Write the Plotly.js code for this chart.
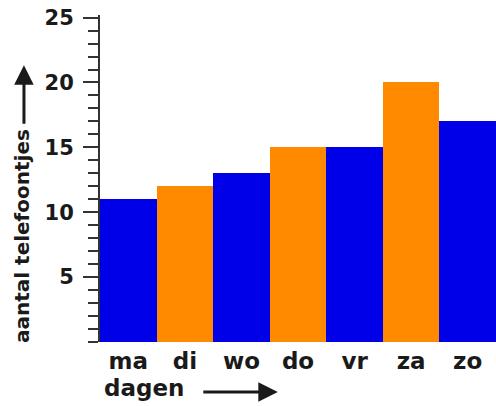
<!DOCTYPE html>
<html>
<head>
<meta charset="utf-8">
<script src="https://cdn.plot.ly/plotly-3.0.1.min.js"></script>
<style>html,body{margin:0;padding:0;background:#fff;}#chart{width:496px;height:406px;}</style>
</head>
<body>
<div id="chart"></div>
<script>
const days = ['ma', 'di', 'wo', 'do', 'vr', 'za', 'zo'];
const calls = [11, 12, 13, 15, 15, 20, 17];
const yTickVals = [5, 10, 15, 20, 25];
const yTitle = 'aantal telefoontjes';
const xTitle = 'dagen';

const BLUE = '#0000e8', ORANGE = '#ff8a00';
const barColors = days.map((d, i) => (i % 2 === 0 ? BLUE : ORANGE));
const FONT = 'DejaVu Sans, Verdana, sans-serif';
const INK = '#1a1a1a';

const trace = {
  type: 'bar', x: days, y: calls,
  marker: {color: barColors, line: {width: 0}},
  hoverinfo: 'skip'
};

const layout = {
  width: 496, height: 406,
  margin: {l: 100, r: 0, t: 15, b: 64},
  paper_bgcolor: '#fff', plot_bgcolor: '#fff',
  bargap: 0,
  showlegend: false,
  font: {family: FONT, color: INK},
  xaxis: {
    type: 'category', range: [-0.5, 6.5], fixedrange: true,
    showline: false, showgrid: false, zeroline: false, ticks: '',
    ticklabelstandoff: 3,
    tickfont: {size: 23, family: FONT, weight: 'bold', color: INK}
  },
  yaxis: {
    range: [0, 25.2], fixedrange: true,
    showline: true, linecolor: '#333', linewidth: 2,
    showgrid: false, zeroline: false,
    tickmode: 'array', tickvals: yTickVals,
    ticks: 'outside', ticklen: 15, tickwidth: 2, tickcolor: '#333',
    ticklabelstandoff: 5,
    minor: {dtick: 1, tick0: 0, ticks: 'outside', ticklen: 10, tickwidth: 2, tickcolor: '#333', showgrid: false},
    tickfont: {size: 21, family: FONT, weight: 'bold', color: INK}
  },
  annotations: [
    {xref: 'paper', yref: 'paper', x: -0.197, y: 0.324, xanchor: 'center', yanchor: 'middle',
     text: yTitle, textangle: -90, showarrow: false,
     font: {size: 20, family: FONT, weight: 'bold', color: INK}},
    {xref: 'paper', yref: 'paper', x: -0.192, y: 0.846, text: '', showarrow: true,
     ax: 0, ay: 60, arrowhead: 2, arrowsize: 1.3, arrowwidth: 3, arrowcolor: INK},
    {xref: 'paper', yref: 'paper', x: 0.005, y: -0.14, xanchor: 'left', yanchor: 'middle',
     text: xTitle, showarrow: false,
     font: {size: 23, family: FONT, weight: 'bold', color: INK}},
    {xref: 'paper', yref: 'paper', x: 0.449, y: -0.153, text: '', showarrow: true,
     ax: -76, ay: 0, arrowhead: 2, arrowsize: 1.3, arrowwidth: 3, arrowcolor: INK}
  ]
};

Plotly.newPlot('chart', [trace], layout, {displayModeBar: false, staticPlot: true});
</script>
</body>
</html>
